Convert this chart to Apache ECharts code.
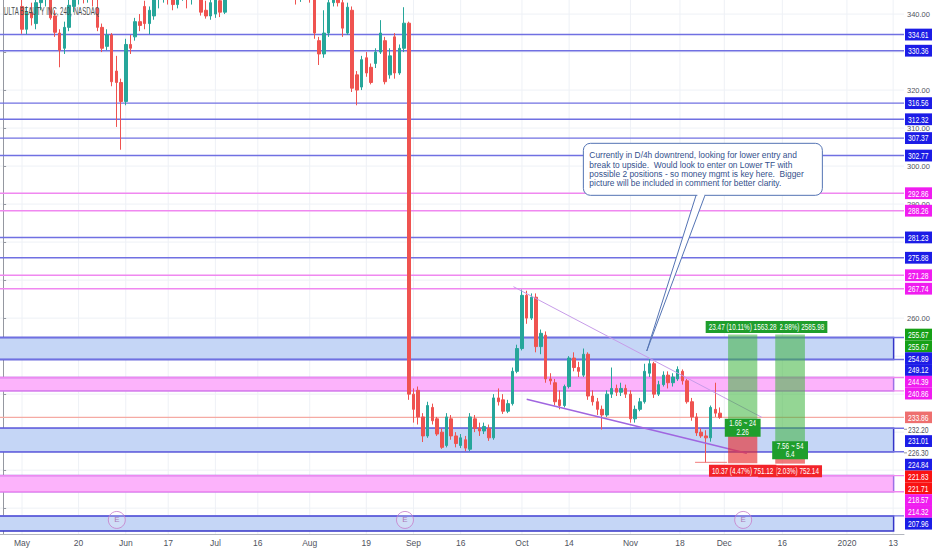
<!DOCTYPE html>
<html><head><meta charset="utf-8">
<script src="https://cdn.jsdelivr.net/npm/echarts@6/dist/echarts.min.js"></script>
<style>html,body{margin:0;padding:0;background:#fff}#c{width:932px;height:550px}</style>
</head><body><div id="c"></div>
<script>
// ---------- data ----------
const chartTitle = 'ULTA BEAUTY INC, 240, NASDAQ';
// one candle per trading day (bar index 0..152)
const openP = [347,349,348,350,342,336,340.5,337.5,343,344.5,
 344,339.5,335,331,336.5,342,344.5,346,345,347,
 341.5,336.5,331.5,334.5,325,322,317,332,334,338,
 342,337.5,339.5,344,345.5,347,346,342.5,345,346.5,
 344,345.5,347,341,339.5,340,343.5,340.5,345,348,
 350,349,352,354,351.5,353,355.5,354,351,349,
 350.5,348,346.5,344.5,345.5,346,344,333,329.5,335,
 343,345,343,335,341,324,320.8,328.5,326,327,
 330,333,324,334,324.5,331,337.6,240,241,234,
 229,236.5,233.5,230,226.5,233.5,229,226.5,228,225.5,
 233.5,231,230.3,231,228.5,239,238.5,235.5,237.5,246,
 252,266,260,265.5,252.5,255.5,244,243,238.5,237,
 242,249.5,247,245,250.5,239.5,238,236,234.5,240,
 241.5,240.5,241.5,240,233.5,236,238,245.5,248,240,
 242.5,245,243,244,246,243.5,238,234,230,229,
 228.5,236,235];
const closeP = [349,348,350,347,336,340.5,339,343,344.5,345,
 339,335.2,330.5,336.5,342.3,344.5,346,345,347,344.5,
 336.5,331,334.5,322.2,322,317,332,331,338,337,
 337.5,341,344,345.5,347,346,342.5,345,346.5,344,
 345.5,347,340.5,339.5,343,344,340.5,345,348,350,
 349,352,354,351.5,353,355.5,354,351,349,350.5,
 348,346.5,344.5,345.5,346,344,335,329.5,335,343,
 345,343,336.3,341.8,320.5,320,328,324.5,322,330,
 335,322.2,329,324.5,331,337.6,240,236,234,229,
 237,233,229.5,226,234,229,227,228.5,225.8,234,
 231,230.3,231.5,228.5,239,238,235.5,237.5,246,252,
 266,260,265.5,252.5,256,244,243.5,238,237,242,
 249.5,247,246,250.5,239.5,238,236,234.5,240,241.5,
 240.5,241.5,240,233.5,236,238,246,248,240,242.5,
 245,243,244.5,246.5,243.5,238,234,229.8,229,228.5,
 236.5,235,233.86];
const lowP = [345,346,346.5,345,334.8,334.7,337,336,341,342,
 338.5,334,326,329.5,335.5,340.5,342.5,342.8,343,342,
 335.5,330,330.5,321,310.3,304.3,316,329.5,333,335.5,
 336,334.7,338.5,341.5,343,342.5,341,341.5,343.5,341.5,
 342.5,344,339.6,338.8,338.5,339,339.2,340,344.2,347,
 347.5,348,351,350,350.5,352,352.5,349.5,347.5,347.5,
 346,345,342.5,343.2,344.2,343,333.5,326.6,328.5,334,
 342,342,334,334.5,319.5,316,320,323.5,321.5,325.8,
 329.5,321.5,323,323,324,330,238.5,232.5,232,227.4,
 228.5,232,229,225.6,226,228,226,225.8,225,225,
 230,229,229.5,227.7,228,237,234.8,235,237,245.5,
 251.5,258.5,259.5,251,250.5,243,242.5,237,236,236.5,
 241.5,246,244.5,244.5,238.5,237,234.5,230.7,234,239,
 239.5,239.5,239,232.5,232.5,235.5,237.5,244.5,239,239.5,
 242,241.5,242,243.5,242.5,237.5,233,229,228.5,222,
 227.5,234,233.5];
const highP = [350,351,352,351,345,342,343,345,347,348,
 345,341,336,338,344,346,348,348,349,348,
 344,337.5,336,335,329,323,333.5,334.5,339,340,
 343.5,342,346,348,349,349,347,346.5,348,348,
 347,349,348,343.5,344.5,345,345,346.5,349,351.5,
 352,353,355.5,355,354.5,357,357,355,352,352,
 351,349.5,347,347,347.5,347,345,334,341,345,
 347,346.5,345,343,342,325,329,330,327,331,
 338.4,334,331,335,332,341.8,338,241.5,242,235,
 238,237.5,234,231,235,234.5,230,229.5,229,235,
 234.5,232.5,232.5,232,240,241.5,240,238.5,247,253,
 267.5,267.2,266.5,266.5,257,256.5,245.5,244,241,242.5,
 250,251,248.5,252,251,241,239,237,241,247,
 242.5,243,242.5,241,237,239,248,249.3,248.5,243.5,
 246,246,245.5,247.3,246.5,244,239,235,231,230.5,
 237,243,236.5];

// time-axis tick labels (position in bar-index units)
const xTickIdx  = [4,16,26,35,45,54,65,77,87,97,110,120,133,143.5,152.9,165.2,178.9,188.7];
const xTickText = ['May','20','Jun','17','Jul','16','Aug','19','Sep','16','Oct','14','Nov','18','Dec','16','2020','13'];
// price-axis ticks (every 10) and the tick labels left visible between the price tags
const yTickValues = [210,220,230,240,250,260,270,280,290,300,310,320,330,340];
const yLabelValues = [260,290,300,310,320,340];

// horizontal levels
const blueLevels = [334.61,330.36,316.56,312.32,307.37,302.77,281.23,275.88,254.89,249.12,231.01,224.84,207.96];
const pinkLevels = [292.86,288.26,271.28,267.74,244.39,240.86,218.57,214.32];
const lastPrice = 233.86;
// zones (low, high)
const blueBoxes = [[249.12,254.89],[224.84,231.01],[204.0,207.96]];
const pinkBoxes = [[240.86,244.39],[214.32,218.57]];
const boxEndIdx = 188.8;

// long-position tools
const posStart  = [153.7, 163.7];
const posEnd    = [159.9, 170.0];
const posEntry  = [232.20, 226.30];
const posTarget = [255.67, 255.67];
const posStop   = [221.83, 221.71];
const posTopText    = ['23.47 (10.11%) 1563.28', '29.37 (12.98%) 2585.98'];
const posMidText    = ['1.66 ~ 24\n2.26', '7.56 ~ 54\n6.4'];
const posBottomText = ['10.37 (4.47%) 751.12', '4.59 (2.03%) 752.14'];

// trend lines [idx, price]
const upperTrend = [[108.2, 268.27], [160.85, 233.9]];
const lowerTrend = [[111.0, 238.64], [157.67, 224.43]];
const stopRay    = [[146.7, 222.06], [153.5, 222.06]];

// earnings markers
const earningsIdx = [24.1, 85.2, 156.9];
const earningsPrice = 206.9;

// callout
const calloutAnchor = [123.02, 305.99];
const calloutTip = [136.46, 251.35];
const calloutLines = [
 'Currently in D/4h downtrend, looking for lower entry and',
 'break to upside.  Would look to enter on Lower TF with',
 'possible 2 positions - so money mgmt is key here.  Bigger',
 'picture will be included in comment for better clarity.'
];

// ---------- chart ----------
const X_MIN = -0.665, X_MAX = 191.0, Y_MIN = 203.2, Y_MAX = 343.7;
const FONT = '"Liberation Sans", Arial, sans-serif';

// condensed look of the screenshot's fonts: horizontal scale fitted to the text widths seen
const mctx = document.createElement('canvas').getContext('2d');
function textW(s, size) { mctx.font = size + 'px ' + FONT; return mctx.measureText(s).width; }
const sTitle = 96 / textW(chartTitle, 10);
const sNum = 68 / textW(posTopText[0], 8.5);
const sNote = 208 / textW(calloutLines[0], 9);

const candleData = openP.map((o, i) => [i, o, closeP[i], lowP[i], highP[i]]);
const levelData = [
  ...blueLevels.map(v => [v, 0]),
  ...pinkLevels.map(v => [v, 1]),
  [lastPrice, 2]
];
const boxData = [
  ...blueBoxes.map(b => [b[0], b[1], 0]),
  ...pinkBoxes.map(b => [b[0], b[1], 1])
];
const tagList = [
  ...blueLevels.map(v => ({v, k: 'blue'})),
  ...pinkLevels.map(v => ({v, k: 'pink'})),
  {v: lastPrice, k: 'last'},
  ...posTarget.map(v => ({v, k: 'green'})),
  ...posStop.map(v => ({v, k: 'red'})),
  ...posEntry.map(v => ({v, k: 'gray'}))
];
const tagBg = {blue:'#1c1ce6', pink:'#f01cf0', last:'#ee6f6f', green:'#16a016', red:'#fa1212', gray:'#ffffff'};
const tagFg = {blue:'#fff', pink:'#fff', last:'#fff', green:'#fff', red:'#fff', gray:'#50535e'};

function sText(x, y, s, style) {
  return {type: 'text', x, y, scaleX: s, scaleY: 1, style: Object.assign({x: 0, y: 0, fontFamily: FONT}, style)};
}

const chart = echarts.init(document.getElementById('c'), null, {renderer: 'svg'});
chart.setOption({
  animation: false,
  backgroundColor: '#ffffff',
  graphic: [{type: 'text', x: 4, y: 11.5, scaleX: sTitle, scaleY: 1, silent: true, z: 100,
    style: {text: chartTitle, x: 0, y: 0, fontSize: 10, fill: '#4e4e4e', fontFamily: FONT, verticalAlign: 'middle'}}],
  grid: {left: 0, right: 28, top: 0, bottom: 16, containLabel: false, outerBoundsMode: 'none'},
  xAxis: {
    type: 'value', min: X_MIN, max: X_MAX,
    axisLine: {show: true, lineStyle: {color: '#b2b5be'}},
    axisTick: {show: false},
    splitLine: {show: false},
    axisLabel: {
      customValues: xTickIdx,
      formatter: v => { const k = xTickIdx.findIndex(t => Math.abs(t - v) < 1e-6); return k >= 0 ? xTickText[k] : ''; },
      color: '#50535e', fontSize: 8.5, margin: 4, fontFamily: FONT
    }
  },
  yAxis: {
    type: 'value', position: 'right', min: Y_MIN, max: Y_MAX,
    axisLine: {show: true, lineStyle: {color: '#9598a1'}},
    axisTick: {show: true, customValues: yTickValues, length: 3, lineStyle: {color: '#9598a1'}},
    splitLine: {show: false},
    axisLabel: {customValues: yLabelValues, formatter: v => v.toFixed(2),
      color: '#50535e', fontSize: 7.5, margin: 3, fontFamily: FONT}
  },
  series: [
    { // faint grid
      type: 'custom', z: 0, silent: true, data: [[0, 250]],
      renderItem(params, api) {
        const cs = params.coordSys, ch = [];
        xTickIdx.forEach(v => { const x = api.coord([v, Y_MIN])[0];
          ch.push({type: 'line', shape: {x1: x, y1: cs.y, x2: x, y2: cs.y + cs.height}, style: {stroke: '#eef1f6', lineWidth: 1}}); });
        yTickValues.forEach(v => { const y = api.coord([X_MIN, v])[1];
          ch.push({type: 'line', shape: {x1: cs.x, y1: y, x2: cs.x + cs.width, y2: y}, style: {stroke: '#eef1f6', lineWidth: 1}}); });
        return {type: 'group', children: ch};
      }
    },
    { // zones
      type: 'custom', z: 1, silent: true, data: boxData,
      renderItem(params, api) {
        const cs = params.coordSys;
        const lo = api.value(0), hi = api.value(1), kind = api.value(2);
        const p1 = api.coord([boxEndIdx, hi]), p0 = api.coord([X_MIN, lo]);
        const x0 = cs.x - 2, y1 = p1[1], y0 = Math.min(p0[1], cs.y + cs.height - 3);
        return {type: 'rect', shape: {x: x0, y: y1, width: p1[0] - x0, height: y0 - y1},
          style: kind === 0 ? {fill: '#c5d6f6', stroke: '#3434c8', lineWidth: 1.5}
                            : {fill: '#fcb3fb', stroke: '#9d70e6', lineWidth: 1.5}};
      }
    },
    { // level lines
      type: 'custom', z: 2, silent: true, data: levelData,
      renderItem(params, api) {
        const cs = params.coordSys;
        const y = api.coord([X_MIN, api.value(0)])[1], kind = api.value(1);
        const st = kind === 0 ? {stroke: '#7070e2', lineWidth: 1.4}
                 : kind === 1 ? {stroke: '#f088f0', lineWidth: 1.4}
                 : {stroke: '#f5aaa3', lineWidth: 1.2};
        return {type: 'line', shape: {x1: cs.x, y1: y, x2: cs.x + cs.width, y2: y}, style: st};
      }
    },
    {
      type: 'candlestick', name: 'ULTA', z: 3, data: candleData,
      encode: {x: 0, y: [1, 2, 3, 4]},
      barWidth: 3,
      itemStyle: {color: '#26a69a', color0: '#ef5350', borderColor: '#26a69a', borderColor0: '#ef5350', borderWidth: 1}
    },
    {type: 'line', z: 4, data: upperTrend, showSymbol: false, silent: true, lineStyle: {color: '#c79ce9', width: 1}},
    {type: 'line', z: 4, data: lowerTrend, showSymbol: false, silent: true, lineStyle: {color: '#a066e0', width: 1.5}},
    {type: 'line', z: 4, data: stopRay, showSymbol: false, silent: true, lineStyle: {color: '#f27b7b', width: 1}},
    { // position tools
      type: 'custom', z: 6, silent: true, data: [[0, 250]],
      renderItem(params, api) {
        const ch = [];
        for (let k = 0; k < posStart.length; k++) {
          const a = api.coord([posStart[k], posTarget[k]]);
          const b = api.coord([posEnd[k], posEntry[k]]);
          const c = api.coord([posEnd[k], posStop[k]]);
          ch.push({type: 'rect', shape: {x: a[0], y: a[1], width: b[0] - a[0], height: b[1] - a[1]}, style: {fill: 'rgba(60,180,60,0.55)'}});
          ch.push({type: 'rect', shape: {x: a[0], y: b[1], width: b[0] - a[0], height: c[1] - b[1]}, style: {fill: 'rgba(232,40,40,0.62)'}});
        }
        for (let k = posStart.length - 1; k >= 0; k--) {
          const cx = (api.coord([posStart[k], Y_MIN])[0] + api.coord([posEnd[k], Y_MIN])[0]) / 2;
          const yT = api.coord([X_MIN, posTarget[k]])[1];
          const yE = api.coord([X_MIN, posEntry[k]])[1];
          const yS = api.coord([X_MIN, posStop[k]])[1];
          const base = {fill: '#fff', fontSize: 8.5, align: 'center', verticalAlign: 'middle'};
          ch.push(sText(cx, yT - 7.5, sNum, Object.assign({}, base, {text: posTopText[k], backgroundColor: '#1f9e2c', padding: [2, 4, 1, 4]})));
          ch.push(sText(cx, yS + 7.5, sNum, Object.assign({}, base, {text: posBottomText[k], backgroundColor: '#f2232a', padding: [2, 4, 1, 4]})));
          ch.push(sText(cx, yE + 4, sNum, Object.assign({}, base, {text: posMidText[k], lineHeight: 8.5, backgroundColor: '#1f9e2c', padding: [1, 6, 0, 6]})));
        }
        return {type: 'group', children: ch};
      }
    },
    {
      type: 'scatter', z: 7, silent: true,
      data: earningsIdx.map(v => [v, earningsPrice]),
      symbol: 'circle', symbolSize: 17,
      itemStyle: {color: 'rgba(255,255,255,0.25)', borderColor: '#c77dc9', borderWidth: 1},
      label: {show: true, formatter: 'E', position: 'inside', color: '#a05aa8', fontSize: 8, fontFamily: FONT}
    },
    { // callout
      type: 'custom', z: 8, silent: true, data: [[0, 250]],
      renderItem(params, api) {
        const a = api.coord(calloutAnchor), t = api.coord(calloutTip);
        const W = 239, H = 52, stroke = '#5474b4';
        const ch = [
          {type: 'polygon', shape: {points: [[a[0] + 113, a[1] + H - 1], t, [a[0] + 122, a[1] + H - 1]]}, style: {fill: '#fff', stroke, lineWidth: 1}},
          {type: 'rect', shape: {x: a[0], y: a[1], width: W, height: H, r: 7}, style: {fill: '#fff', stroke, lineWidth: 1}},
          {type: 'rect', shape: {x: a[0] + 114, y: a[1] + H - 2, width: 7, height: 3}, style: {fill: '#fff'}}
        ];
        calloutLines.forEach((s, i) => ch.push(sText(a[0] + 6, a[1] + 12 + i * 9.3, sNote,
          {text: s, fill: '#34508c', fontSize: 9, verticalAlign: 'middle', align: 'left'})));
        return {type: 'group', children: ch};
      }
    },
    { // price tags on the right axis
      type: 'custom', z: 9, silent: true, data: [[0, 250]],
      renderItem(params, api) {
        const cs = params.coordSys, xr = cs.x + cs.width, W = api.getWidth();
        const sorted = tagList.slice().sort((p, q) => q.v - p.v);
        let prev = -1e9; const ch = [];
        sorted.forEach(t => {
          let y = api.coord([X_MIN, t.v])[1];
          y = Math.max(y, prev + 11.8); prev = y;
          ch.push({type: 'rect', shape: {x: xr + 1, y: y - 5.9, width: W - xr - 1, height: 11.8}, style: {fill: tagBg[t.k]}});
          if (t.k === 'gray') ch.push({type: 'line', shape: {x1: xr, y1: y, x2: xr + 3, y2: y}, style: {stroke: '#9598a1', lineWidth: 1}});
          ch.push(sText(xr + 4, y + 0.5, sNum, {text: t.v.toFixed(2), fill: tagFg[t.k],
            fontSize: 9, verticalAlign: 'middle', align: 'left'}));
        });
        return {type: 'group', children: ch};
      }
    }
  ]
});
</script></body></html>
